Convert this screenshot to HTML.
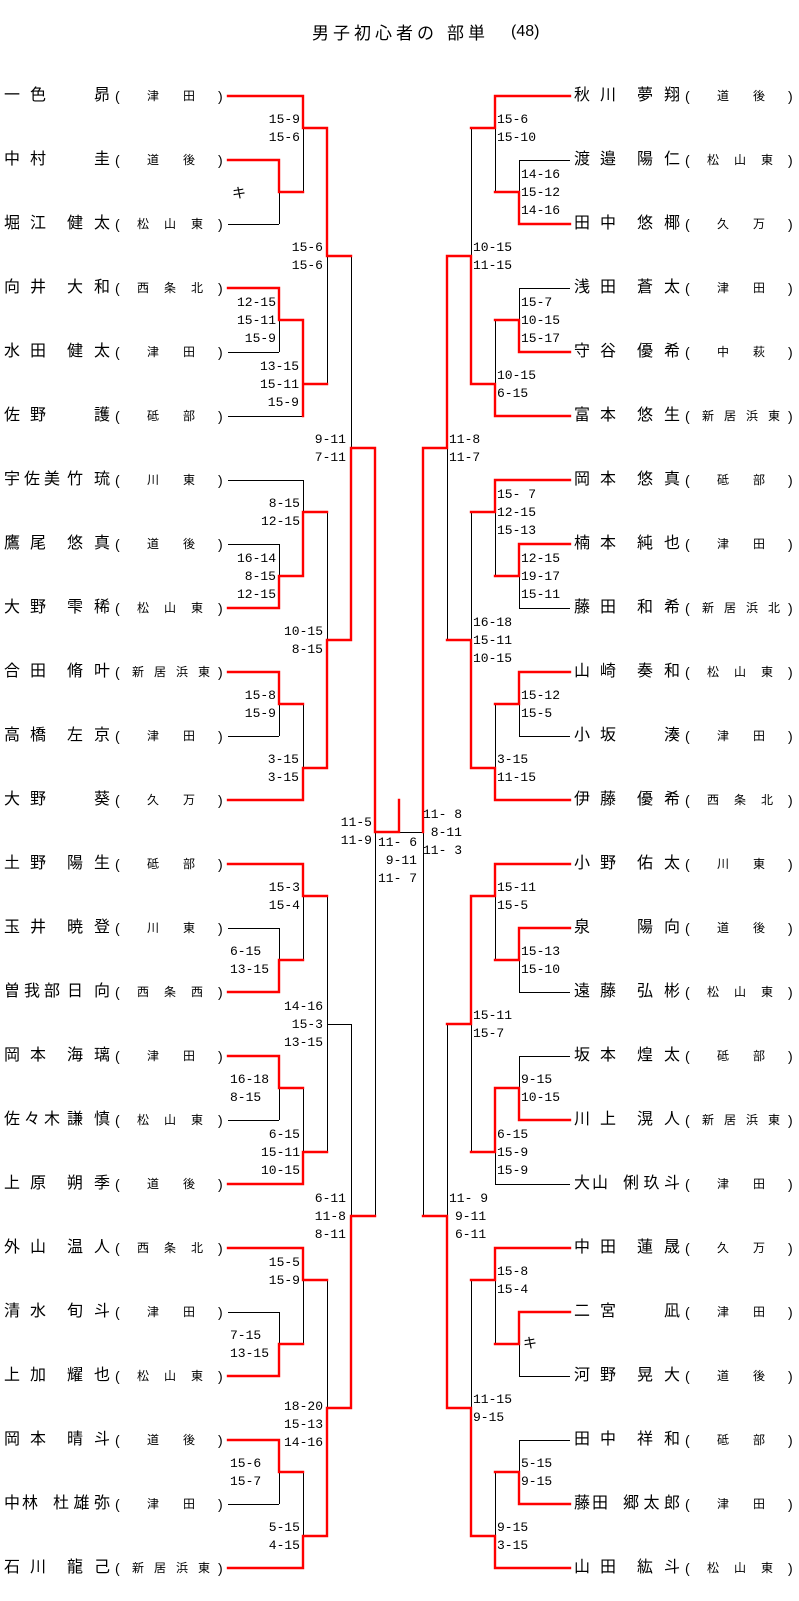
<!DOCTYPE html>
<html><head><meta charset="utf-8">
<style>
body{margin:0;background:#fff;}
#c{position:relative;width:799px;height:1601px;overflow:hidden;background:#fff;font-family:"Liberation Sans","Noto Sans CJK JP",sans-serif;color:#000;}
svg{position:absolute;left:0;top:0;}
.r{position:absolute;height:20px;line-height:20px;font-size:16px;white-space:nowrap;}
.r span{position:absolute;top:0;display:block;}
.f{left:4px;width:42px;text-align:justify;text-align-last:justify;}
.f3{left:4px;width:56px;text-align:justify;text-align-last:justify;}
.fp{left:4px;letter-spacing:2px;}
.g{left:67px;width:43px;text-align:justify;text-align-last:justify;}
.g1{left:60px;width:50px;text-align:right;}
.g3{left:53px;width:57px;text-align:justify;text-align-last:justify;}
.po{left:115px;font-size:14px;}
.pc{left:218px;font-size:14px;}
.a{font-size:12px;text-align:justify;text-align-last:justify;}
.a2{left:147px;width:48px;}
.a3{left:137px;width:66px;}
.a4{left:132px;width:78px;}
.s{position:absolute;font-family:"Liberation Mono",monospace;font-size:13px;line-height:18px;white-space:pre;}
.k{position:absolute;font-size:14px;line-height:18px;font-family:"Noto Sans CJK JP",sans-serif;}
.t{position:absolute;top:21px;font-size:17px;line-height:22px;font-family:"Noto Sans CJK JP",sans-serif;white-space:nowrap;}
</style></head><body><div id="c">
<div class="t" style="left:312px;letter-spacing:4px;">男子初心者の</div>
<div class="t" style="left:447px;letter-spacing:4px;">部単</div>
<div class="t" style="left:511px;font-size:16px;font-family:'Liberation Sans',sans-serif;">(48)</div>

<svg width="799" height="1601" viewBox="0 0 799 1601">
<path fill="none" stroke="#000" stroke-width="1" d="
M228 224.5H279M228 352.5H279M228 416.5H303M228 480.5H303M228 544.5H279M228 736.5H279M228 928.5H279M228 1120.5H279M228 1312.5H279M228 1504.5H279
M279.5 192V224M279.5 320V352M279.5 544V576M279.5 704V736M279.5 928V960M279.5 1088V1120M279.5 1312V1344M279.5 1472V1504
M303.5 128V192M303.5 480V512M303.5 704V768M303.5 896V960M303.5 1088V1152M303.5 1280V1344M303.5 1472V1536
M327.5 256V384M327.5 512V640M327.5 896V1152M327.5 1280V1408M327 1024.5H351
M351.5 256V448M351.5 1024V1216
M375.5 832V1216M399 832.5H423
M570 160.5H519M570 288.5H519M570 608.5H519M570 736.5H519M570 992.5H519M570 1056.5H519M570 1376.5H519M570 1440.5H519M570 1184.5H495
M519.5 160V192M519.5 288V320M519.5 576V608M519.5 704V736M519.5 960V992M519.5 1056V1088M519.5 1344V1376M519.5 1440V1472
M495.5 128V192M495.5 320V384M495.5 512V576M495.5 704V768M495.5 896V960M495.5 1152V1184M495.5 1280V1344M495.5 1472V1536
M471.5 128V256M471.5 512V640M471.5 1024V1152M471.5 1280V1408
M447.5 448V640M447.5 1024V1216
M423.5 832V1216
"/>
<path fill="none" stroke="#f00" stroke-width="2.4" stroke-linecap="square" d="
M228 96H303M228 160H279M228 288H279M228 608H279M228 672H279M228 800H303M228 864H303M228 992H279M228 1056H279M228 1184H303M228 1248H303M228 1376H279M228 1440H279M228 1568H303
M279 160V192M279 288V320M279 576V608M279 672V704M279 960V992M279 1056V1088M279 1344V1376M279 1440V1472
M279 192H303M279 320H303M279 576H303M279 704H303M279 960H303M279 1088H303M279 1344H303M279 1472H303
M303 96V128M303 320V416M303 512V576M303 768V800M303 864V896M303 1152V1184M303 1248V1280M303 1536V1568
M303 128H327M303 384H327M303 512H327M303 768H327M303 896H327M303 1152H327M303 1280H327M303 1536H327
M327 128V256M327 640V768M327 1408V1536
M327 256H351M327 640H351M327 1408H351
M351 448V640M351 1216V1408
M351 448H375M351 1216H375
M375 448V832M375 832H399M399 800V832
M570 96H495M570 224H519M570 352H519M570 416H495M570 480H495M570 544H519M570 672H519M570 800H495M570 864H495M570 928H519M570 1120H519M570 1248H495M570 1312H519M570 1504H519M570 1568H495
M519 192V224M519 320V352M519 544V576M519 672V704M519 928V960M519 1088V1120M519 1312V1344M519 1472V1504
M519 192H495M519 320H495M519 576H495M519 704H495M519 960H495M519 1088H495M519 1344H495M519 1472H495
M495 96V128M495 384V416M495 480V512M495 768V800M495 864V896M495 1088V1152M495 1248V1280M495 1536V1568
M495 128H471M495 384H471M495 512H471M495 768H471M495 896H471M495 1152H471M495 1280H471M495 1536H471
M471 256V384M471 640V768M471 896V1024M471 1408V1536
M471 256H447M471 640H447M471 1024H447M471 1408H447
M447 256V448M447 1216V1408
M447 448H423M447 1216H423
M423 448V832
"/>
</svg>

<div class="r" style="left:0;top:86px;width:230px"><span class="f">一色</span><span class="g1">昴</span><span class="po">(</span><span class="a a2">津田</span><span class="pc">)</span></div>
<div class="r" style="left:0;top:150px;width:230px"><span class="f">中村</span><span class="g1">圭</span><span class="po">(</span><span class="a a2">道後</span><span class="pc">)</span></div>
<div class="r" style="left:0;top:214px;width:230px"><span class="f">堀江</span><span class="g">健太</span><span class="po">(</span><span class="a a3">松山東</span><span class="pc">)</span></div>
<div class="r" style="left:0;top:278px;width:230px"><span class="f">向井</span><span class="g">大和</span><span class="po">(</span><span class="a a3">西条北</span><span class="pc">)</span></div>
<div class="r" style="left:0;top:342px;width:230px"><span class="f">水田</span><span class="g">健太</span><span class="po">(</span><span class="a a2">津田</span><span class="pc">)</span></div>
<div class="r" style="left:0;top:406px;width:230px"><span class="f">佐野</span><span class="g1">護</span><span class="po">(</span><span class="a a2">砥部</span><span class="pc">)</span></div>
<div class="r" style="left:0;top:470px;width:230px"><span class="f3">宇佐美</span><span class="g">竹琉</span><span class="po">(</span><span class="a a2">川東</span><span class="pc">)</span></div>
<div class="r" style="left:0;top:534px;width:230px"><span class="f">鷹尾</span><span class="g">悠真</span><span class="po">(</span><span class="a a2">道後</span><span class="pc">)</span></div>
<div class="r" style="left:0;top:598px;width:230px"><span class="f">大野</span><span class="g">雫稀</span><span class="po">(</span><span class="a a3">松山東</span><span class="pc">)</span></div>
<div class="r" style="left:0;top:662px;width:230px"><span class="f">合田</span><span class="g">脩叶</span><span class="po">(</span><span class="a a4">新居浜東</span><span class="pc">)</span></div>
<div class="r" style="left:0;top:726px;width:230px"><span class="f">高橋</span><span class="g">左京</span><span class="po">(</span><span class="a a2">津田</span><span class="pc">)</span></div>
<div class="r" style="left:0;top:790px;width:230px"><span class="f">大野</span><span class="g1">葵</span><span class="po">(</span><span class="a a2">久万</span><span class="pc">)</span></div>
<div class="r" style="left:0;top:854px;width:230px"><span class="f">土野</span><span class="g">陽生</span><span class="po">(</span><span class="a a2">砥部</span><span class="pc">)</span></div>
<div class="r" style="left:0;top:918px;width:230px"><span class="f">玉井</span><span class="g">暁登</span><span class="po">(</span><span class="a a2">川東</span><span class="pc">)</span></div>
<div class="r" style="left:0;top:982px;width:230px"><span class="f3">曽我部</span><span class="g">日向</span><span class="po">(</span><span class="a a3">西条西</span><span class="pc">)</span></div>
<div class="r" style="left:0;top:1046px;width:230px"><span class="f">岡本</span><span class="g">海璃</span><span class="po">(</span><span class="a a2">津田</span><span class="pc">)</span></div>
<div class="r" style="left:0;top:1110px;width:230px"><span class="f3">佐々木</span><span class="g">謙慎</span><span class="po">(</span><span class="a a3">松山東</span><span class="pc">)</span></div>
<div class="r" style="left:0;top:1174px;width:230px"><span class="f">上原</span><span class="g">朔季</span><span class="po">(</span><span class="a a2">道後</span><span class="pc">)</span></div>
<div class="r" style="left:0;top:1238px;width:230px"><span class="f">外山</span><span class="g">温人</span><span class="po">(</span><span class="a a3">西条北</span><span class="pc">)</span></div>
<div class="r" style="left:0;top:1302px;width:230px"><span class="f">清水</span><span class="g">旬斗</span><span class="po">(</span><span class="a a2">津田</span><span class="pc">)</span></div>
<div class="r" style="left:0;top:1366px;width:230px"><span class="f">上加</span><span class="g">耀也</span><span class="po">(</span><span class="a a3">松山東</span><span class="pc">)</span></div>
<div class="r" style="left:0;top:1430px;width:230px"><span class="f">岡本</span><span class="g">晴斗</span><span class="po">(</span><span class="a a2">道後</span><span class="pc">)</span></div>
<div class="r" style="left:0;top:1494px;width:230px"><span class="fp">中林</span><span class="g3">杜雄弥</span><span class="po">(</span><span class="a a2">津田</span><span class="pc">)</span></div>
<div class="r" style="left:0;top:1558px;width:230px"><span class="f">石川</span><span class="g">龍己</span><span class="po">(</span><span class="a a4">新居浜東</span><span class="pc">)</span></div>

<div class="r" style="left:570px;top:86px;width:229px"><span class="f">秋川</span><span class="g">夢翔</span><span class="po">(</span><span class="a a2">道後</span><span class="pc">)</span></div>
<div class="r" style="left:570px;top:150px;width:229px"><span class="f">渡邉</span><span class="g">陽仁</span><span class="po">(</span><span class="a a3">松山東</span><span class="pc">)</span></div>
<div class="r" style="left:570px;top:214px;width:229px"><span class="f">田中</span><span class="g">悠椰</span><span class="po">(</span><span class="a a2">久万</span><span class="pc">)</span></div>
<div class="r" style="left:570px;top:278px;width:229px"><span class="f">浅田</span><span class="g">蒼太</span><span class="po">(</span><span class="a a2">津田</span><span class="pc">)</span></div>
<div class="r" style="left:570px;top:342px;width:229px"><span class="f">守谷</span><span class="g">優希</span><span class="po">(</span><span class="a a2">中萩</span><span class="pc">)</span></div>
<div class="r" style="left:570px;top:406px;width:229px"><span class="f">富本</span><span class="g">悠生</span><span class="po">(</span><span class="a a4">新居浜東</span><span class="pc">)</span></div>
<div class="r" style="left:570px;top:470px;width:229px"><span class="f">岡本</span><span class="g">悠真</span><span class="po">(</span><span class="a a2">砥部</span><span class="pc">)</span></div>
<div class="r" style="left:570px;top:534px;width:229px"><span class="f">楠本</span><span class="g">純也</span><span class="po">(</span><span class="a a2">津田</span><span class="pc">)</span></div>
<div class="r" style="left:570px;top:598px;width:229px"><span class="f">藤田</span><span class="g">和希</span><span class="po">(</span><span class="a a4">新居浜北</span><span class="pc">)</span></div>
<div class="r" style="left:570px;top:662px;width:229px"><span class="f">山崎</span><span class="g">奏和</span><span class="po">(</span><span class="a a3">松山東</span><span class="pc">)</span></div>
<div class="r" style="left:570px;top:726px;width:229px"><span class="f">小坂</span><span class="g1">湊</span><span class="po">(</span><span class="a a2">津田</span><span class="pc">)</span></div>
<div class="r" style="left:570px;top:790px;width:229px"><span class="f">伊藤</span><span class="g">優希</span><span class="po">(</span><span class="a a3">西条北</span><span class="pc">)</span></div>
<div class="r" style="left:570px;top:854px;width:229px"><span class="f">小野</span><span class="g">佑太</span><span class="po">(</span><span class="a a2">川東</span><span class="pc">)</span></div>
<div class="r" style="left:570px;top:918px;width:229px"><span class="fp">泉</span><span class="g">陽向</span><span class="po">(</span><span class="a a2">道後</span><span class="pc">)</span></div>
<div class="r" style="left:570px;top:982px;width:229px"><span class="f">遠藤</span><span class="g">弘彬</span><span class="po">(</span><span class="a a3">松山東</span><span class="pc">)</span></div>
<div class="r" style="left:570px;top:1046px;width:229px"><span class="f">坂本</span><span class="g">煌太</span><span class="po">(</span><span class="a a2">砥部</span><span class="pc">)</span></div>
<div class="r" style="left:570px;top:1110px;width:229px"><span class="f">川上</span><span class="g">滉人</span><span class="po">(</span><span class="a a4">新居浜東</span><span class="pc">)</span></div>
<div class="r" style="left:570px;top:1174px;width:229px"><span class="fp">大山</span><span class="g3">俐玖斗</span><span class="po">(</span><span class="a a2">津田</span><span class="pc">)</span></div>
<div class="r" style="left:570px;top:1238px;width:229px"><span class="f">中田</span><span class="g">蓮晟</span><span class="po">(</span><span class="a a2">久万</span><span class="pc">)</span></div>
<div class="r" style="left:570px;top:1302px;width:229px"><span class="f">二宮</span><span class="g1">凪</span><span class="po">(</span><span class="a a2">津田</span><span class="pc">)</span></div>
<div class="r" style="left:570px;top:1366px;width:229px"><span class="f">河野</span><span class="g">晃大</span><span class="po">(</span><span class="a a2">道後</span><span class="pc">)</span></div>
<div class="r" style="left:570px;top:1430px;width:229px"><span class="f">田中</span><span class="g">祥和</span><span class="po">(</span><span class="a a2">砥部</span><span class="pc">)</span></div>
<div class="r" style="left:570px;top:1494px;width:229px"><span class="fp">藤田</span><span class="g3">郷太郎</span><span class="po">(</span><span class="a a2">津田</span><span class="pc">)</span></div>
<div class="r" style="left:570px;top:1558px;width:229px"><span class="f">山田</span><span class="g">紘斗</span><span class="po">(</span><span class="a a3">松山東</span><span class="pc">)</span></div>

<div class="s" style="right:499px;top:111px;text-align:right">15-9
15-6</div>
<div class="k" style="left:232px;top:184px">キ</div>
<div class="s" style="right:476px;top:239px;text-align:right">15-6
15-6</div>
<div class="s" style="right:523px;top:294px;text-align:right">12-15
15-11
15-9</div>
<div class="s" style="right:500px;top:358px;text-align:right">13-15
15-11
15-9</div>
<div class="s" style="right:453px;top:431px;text-align:right">9-11
7-11</div>
<div class="s" style="right:499px;top:495px;text-align:right">8-15
12-15</div>
<div class="s" style="right:523px;top:550px;text-align:right">16-14
8-15
12-15</div>
<div class="s" style="right:476px;top:623px;text-align:right">10-15
8-15</div>
<div class="s" style="right:523px;top:687px;text-align:right">15-8
15-9</div>
<div class="s" style="right:500px;top:751px;text-align:right">3-15
3-15</div>
<div class="s" style="right:427px;top:814px;text-align:right">11-5
11-9</div>
<div class="s" style="right:382px;top:834px;text-align:right">11- 6
9-11
11- 7</div>
<div class="s" style="right:337px;top:806px;text-align:right">11- 8
8-11
11- 3</div>
<div class="s" style="right:499px;top:879px;text-align:right">15-3
15-4</div>
<div class="s" style="left:230px;top:943px">6-15
13-15</div>
<div class="s" style="right:476px;top:998px;text-align:right">14-16
15-3
13-15</div>
<div class="s" style="left:230px;top:1071px">16-18
8-15</div>
<div class="s" style="right:499px;top:1126px;text-align:right">6-15
15-11
10-15</div>
<div class="s" style="right:453px;top:1190px;text-align:right">6-11
11-8
8-11</div>
<div class="s" style="right:499px;top:1254px;text-align:right">15-5
15-9</div>
<div class="s" style="left:230px;top:1327px">7-15
13-15</div>
<div class="s" style="right:476px;top:1398px;text-align:right">18-20
15-13
14-16</div>
<div class="s" style="left:230px;top:1455px">15-6
15-7</div>
<div class="s" style="right:499px;top:1519px;text-align:right">5-15
4-15</div>

<div class="s" style="left:497px;top:111px">15-6
15-10</div>
<div class="s" style="left:521px;top:166px">14-16
15-12
14-16</div>
<div class="s" style="left:473px;top:239px">10-15
11-15</div>
<div class="s" style="left:521px;top:294px">15-7
10-15
15-17</div>
<div class="s" style="left:497px;top:367px">10-15
6-15</div>
<div class="s" style="left:449px;top:431px">11-8
11-7</div>
<div class="s" style="left:497px;top:486px">15- 7
12-15
15-13</div>
<div class="s" style="left:521px;top:550px">12-15
19-17
15-11</div>
<div class="s" style="left:473px;top:614px">16-18
15-11
10-15</div>
<div class="s" style="left:521px;top:687px">15-12
15-5</div>
<div class="s" style="left:497px;top:751px">3-15
11-15</div>
<div class="s" style="left:497px;top:879px">15-11
15-5</div>
<div class="s" style="left:521px;top:943px">15-13
15-10</div>
<div class="s" style="left:473px;top:1007px">15-11
15-7</div>
<div class="s" style="left:521px;top:1071px">9-15
10-15</div>
<div class="s" style="left:497px;top:1126px">6-15
15-9
15-9</div>
<div class="s" style="left:449px;top:1190px">11- 9</div>
<div class="s" style="left:455px;top:1208px">9-11
6-11</div>
<div class="s" style="left:497px;top:1263px">15-8
15-4</div>
<div class="k" style="left:523px;top:1334px">キ</div>
<div class="s" style="left:473px;top:1391px">11-15
9-15</div>
<div class="s" style="left:521px;top:1455px">5-15
9-15</div>
<div class="s" style="left:497px;top:1519px">9-15
3-15</div>
</div></body></html>
